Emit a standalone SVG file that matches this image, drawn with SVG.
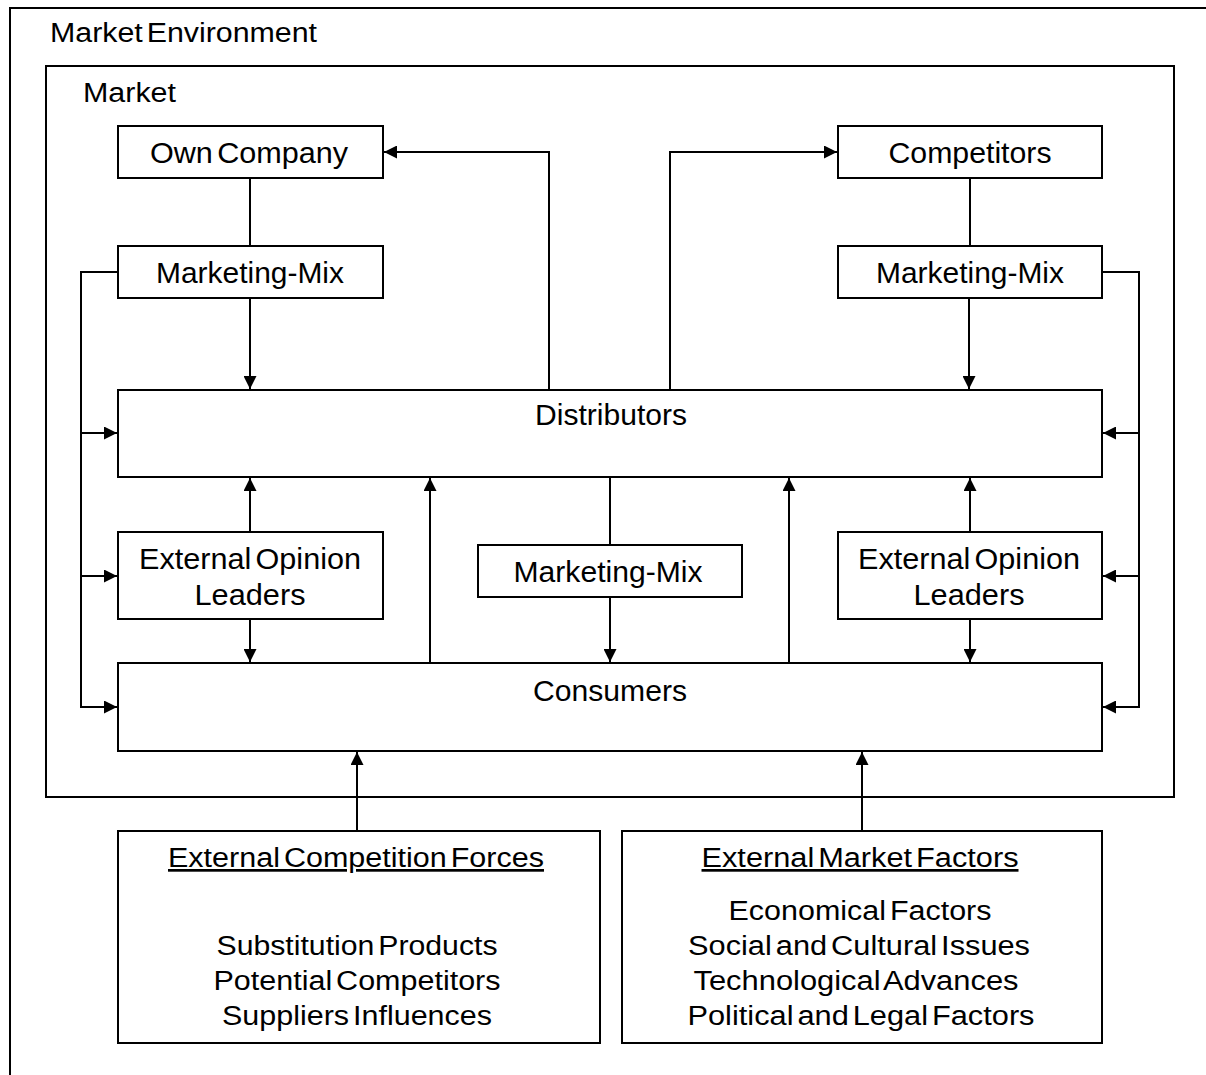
<svg xmlns="http://www.w3.org/2000/svg" width="1206" height="1075" viewBox="0 0 1206 1075">
  <defs>
    <marker id="arr" viewBox="0 0 12 12" refX="12" refY="6" markerWidth="13" markerHeight="13" markerUnits="userSpaceOnUse" orient="auto">
      <path d="M0,0 L12,6 L0,12 z" fill="#000"/>
    </marker>
    <style>
      .frame { fill: none; stroke: #000; stroke-width: 2; }
      .box { fill: #fff; stroke: #000; stroke-width: 2; }
      .wire { fill: none; stroke: #000; stroke-width: 2; }
      .arrow { marker-end: url(#arr); }
      text { font-family: "Liberation Sans", Arial, sans-serif; fill: #000; word-spacing: -4px; }
      .lbl { font-size: 29px; text-anchor: middle; }
      .lst { font-size: 27px; text-anchor: middle; }
      .ttl { font-size: 27px; }
      .u { text-decoration: underline; }
    </style>
  </defs>

  <rect width="1206" height="1075" fill="#fff"/>

  <!-- outer frame: market environment -->
  <g id="market-environment">
    <rect class="frame" x="10" y="8" width="1220" height="1100"/>
    <text class="ttl" x="50" y="42" textLength="267" lengthAdjust="spacingAndGlyphs">Market Environment</text>
  </g>

  <!-- inner frame: market -->
  <g id="market">
    <rect class="frame" x="46" y="66" width="1128" height="731"/>
    <text class="ttl" x="83" y="102" textLength="93" lengthAdjust="spacingAndGlyphs">Market</text>
  </g>

  <!-- connectors -->
  <g id="connectors">
    <path class="wire arrow" d="M549,390 V152 H384"/>
    <path class="wire arrow" d="M670,390 V152 H837"/>
    <path class="wire" d="M250,178 V246"/>
    <path class="wire" d="M970,178 V246"/>
    <path class="wire arrow" d="M250,298 V389"/>
    <path class="wire arrow" d="M969,298 V389"/>

    <!-- left feedback bus -->
    <path class="wire arrow" d="M118,272 H81 V707 H117"/>
    <path class="wire arrow" d="M81,433 H117"/>
    <path class="wire arrow" d="M81,576 H117"/>

    <!-- right feedback bus -->
    <path class="wire arrow" d="M1102,272 H1139 V707 H1103"/>
    <path class="wire arrow" d="M1139,433 H1103"/>
    <path class="wire arrow" d="M1139,576 H1103"/>

    <!-- opinion leaders -->
    <path class="wire arrow" d="M250,532 V478"/>
    <path class="wire arrow" d="M250,619 V662"/>
    <path class="wire arrow" d="M970,532 V478"/>
    <path class="wire arrow" d="M970,619 V662"/>

    <!-- consumers to distributors -->
    <path class="wire arrow" d="M430,663 V478"/>
    <path class="wire arrow" d="M789,663 V478"/>

    <!-- distributors' marketing mix -->
    <path class="wire" d="M610,477 V545"/>
    <path class="wire arrow" d="M610,597 V662"/>

    <!-- external influences -->
    <path class="wire arrow" d="M357,831 V752"/>
    <path class="wire arrow" d="M862,831 V752"/>
  </g>

  <g id="own-company">
    <rect class="box" x="118" y="126" width="265" height="52"/>
    <text class="lbl" x="249" y="163" textLength="198" lengthAdjust="spacingAndGlyphs">Own Company</text>
  </g>

  <g id="competitors">
    <rect class="box" x="838" y="126" width="264" height="52"/>
    <text class="lbl" x="970" y="163" textLength="163" lengthAdjust="spacingAndGlyphs">Competitors</text>
  </g>

  <g id="marketing-mix-own">
    <rect class="box" x="118" y="246" width="265" height="52"/>
    <text class="lbl" x="250" y="283" textLength="188" lengthAdjust="spacingAndGlyphs">Marketing-Mix</text>
  </g>

  <g id="marketing-mix-competitors">
    <rect class="box" x="838" y="246" width="264" height="52"/>
    <text class="lbl" x="970" y="283" textLength="188" lengthAdjust="spacingAndGlyphs">Marketing-Mix</text>
  </g>

  <g id="distributors">
    <rect class="box" x="118" y="390" width="984" height="87"/>
    <text class="lbl" x="611" y="425" textLength="152" lengthAdjust="spacingAndGlyphs">Distributors</text>
  </g>

  <g id="opinion-leaders-left">
    <rect class="box" x="118" y="532" width="265" height="87"/>
    <text class="lbl" x="250" y="569" textLength="222" lengthAdjust="spacingAndGlyphs">External Opinion</text>
    <text class="lbl" x="250" y="605" textLength="111" lengthAdjust="spacingAndGlyphs">Leaders</text>
  </g>

  <g id="opinion-leaders-right">
    <rect class="box" x="838" y="532" width="264" height="87"/>
    <text class="lbl" x="969" y="569" textLength="222" lengthAdjust="spacingAndGlyphs">External Opinion</text>
    <text class="lbl" x="969" y="605" textLength="111" lengthAdjust="spacingAndGlyphs">Leaders</text>
  </g>

  <g id="marketing-mix-distributors">
    <rect class="box" x="478" y="545" width="264" height="52"/>
    <text class="lbl" x="608" y="582" textLength="189" lengthAdjust="spacingAndGlyphs">Marketing-Mix</text>
  </g>

  <g id="consumers">
    <rect class="box" x="118" y="663" width="984" height="88"/>
    <text class="lbl" x="610" y="701" textLength="154" lengthAdjust="spacingAndGlyphs">Consumers</text>
  </g>

  <g id="external-competition-forces">
    <rect class="box" x="118" y="831" width="482" height="212"/>
    <text class="lst u" x="356" y="867" textLength="376" lengthAdjust="spacingAndGlyphs">External Competition Forces</text>
    <text class="lst" x="357" y="955" textLength="281" lengthAdjust="spacingAndGlyphs">Substitution Products</text>
    <text class="lst" x="357" y="990" textLength="287" lengthAdjust="spacingAndGlyphs">Potential Competitors</text>
    <text class="lst" x="357" y="1025" textLength="270" lengthAdjust="spacingAndGlyphs">Suppliers Influences</text>
  </g>

  <g id="external-market-factors">
    <rect class="box" x="622" y="831" width="480" height="212"/>
    <text class="lst u" x="860" y="867" textLength="317" lengthAdjust="spacingAndGlyphs">External Market Factors</text>
    <text class="lst" x="860" y="920" textLength="263" lengthAdjust="spacingAndGlyphs">Economical Factors</text>
    <text class="lst" x="859" y="955" textLength="342" lengthAdjust="spacingAndGlyphs">Social and Cultural Issues</text>
    <text class="lst" x="856" y="990" textLength="325" lengthAdjust="spacingAndGlyphs">Technological Advances</text>
    <text class="lst" x="861" y="1025" textLength="347" lengthAdjust="spacingAndGlyphs">Political and Legal Factors</text>
  </g>
</svg>
